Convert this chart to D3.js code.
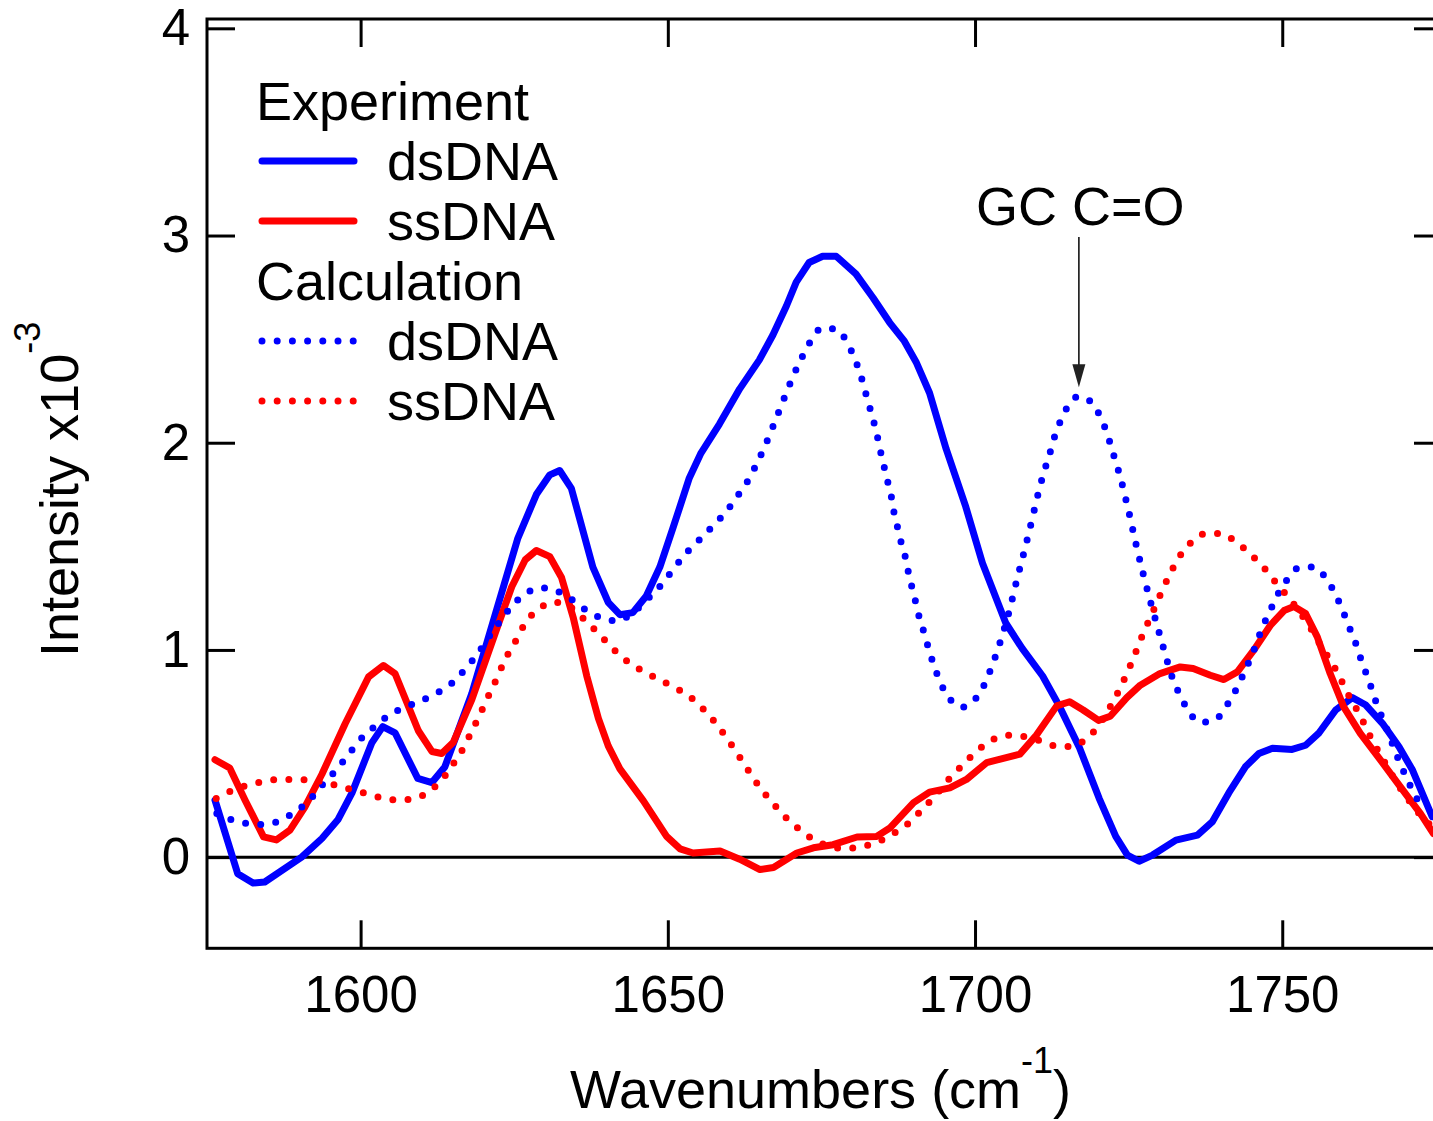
<!DOCTYPE html>
<html>
<head>
<meta charset="utf-8">
<script src="https://cdn.jsdelivr.net/npm/d3@7"></script>
<style>
  body { margin: 0; background: #fff; }
  svg { display: block; font-family: "Liberation Sans", Arial, sans-serif; }
</style>
</head>
<body>
<svg id="chart" width="1433" height="1121"></svg>
<script>
// spectra: [wavenumber (cm-1), intensity x10^-3]
const expDsDNA = [
  [1576.3,0.275],[1580,-0.08],[1582.5,-0.125],[1584.4,-0.12],[1590.4,0.0],[1593.7,0.09],[1596.3,0.18],
  [1598.6,0.31],[1601.8,0.55],[1603.6,0.63],[1605.6,0.60],[1609.3,0.38],[1611.6,0.36],[1613.7,0.435],
  [1618.1,0.79],[1621.8,1.16],[1625.6,1.54],[1628.6,1.75],[1630.8,1.845],[1632.4,1.866],[1634.3,1.78],
  [1637.8,1.40],[1640.3,1.23],[1642.2,1.17],[1644.3,1.18],[1646.5,1.26],[1648.7,1.40],[1650.8,1.585],
  [1653.5,1.83],[1655.4,1.95],[1658.4,2.09],[1661.7,2.26],[1664.9,2.40],[1667.1,2.52],[1669.3,2.66],
  [1670.9,2.775],[1673.0,2.87],[1675.2,2.90],[1677.4,2.90],[1680.6,2.815],[1683.4,2.70],[1686.1,2.58],
  [1688.5,2.49],[1690.4,2.39],[1692.6,2.24],[1695.3,1.97],[1698.5,1.69],[1701.2,1.42],[1705.0,1.13],
  [1707.7,1.006],[1711.0,0.874],[1713.7,0.73],[1717.0,0.528],[1720.2,0.284],[1722.9,0.10],[1724.8,0.01],
  [1726.7,-0.02],[1728.9,0.01],[1732.7,0.082],[1736.2,0.106],[1738.6,0.17],[1741.3,0.31],[1744.0,0.436],
  [1746.2,0.50],[1748.4,0.525],[1751.6,0.52],[1753.8,0.54],[1756.0,0.60],[1758.7,0.71],[1761.4,0.77],
  [1763.6,0.734],[1766.3,0.646],[1769.0,0.533],[1771.2,0.42],[1774.4,0.195]
];

const expSsDNA = [
  [1576.3,0.47],[1578.7,0.43],[1581.2,0.275],[1584.2,0.098],[1586.3,0.083],[1588.5,0.13],[1590.9,0.24],
  [1593.7,0.40],[1597.5,0.645],[1601.3,0.87],[1603.7,0.925],[1605.6,0.886],[1609.4,0.61],[1611.6,0.51],
  [1613.2,0.50],[1615.1,0.555],[1618.1,0.76],[1621.9,1.08],[1624.6,1.305],[1626.8,1.435],[1628.6,1.48],
  [1630.8,1.45],[1632.7,1.35],[1634.6,1.157],[1636.8,0.875],[1638.7,0.67],[1640.3,0.537],[1642.2,0.426],
  [1646.0,0.273],[1649.8,0.10],[1652.0,0.04],[1654.1,0.02],[1658.5,0.03],[1661.7,-0.01],[1665.0,-0.06],
  [1667.2,-0.05],[1671.0,0.02],[1673.7,0.045],[1676.9,0.06],[1680.8,0.097],[1684.0,0.10],[1686.2,0.142],
  [1690.0,0.263],[1692.6,0.314],[1695.9,0.334],[1698.6,0.375],[1701.9,0.456],[1704.6,0.477],[1707.3,0.497],
  [1710.0,0.589],[1713.3,0.73],[1715.4,0.75],[1717.6,0.71],[1720.1,0.66],[1722.0,0.68],[1724.7,0.77],
  [1726.9,0.83],[1730.1,0.886],[1733.4,0.918],[1735.5,0.91],[1738.3,0.878],[1740.5,0.857],[1742.7,0.894],
  [1745.4,1.0],[1748.1,1.12],[1750.3,1.19],[1751.9,1.21],[1753.8,1.176],[1755.7,1.063],[1757.8,0.886],
  [1760.0,0.725],[1762.7,0.597],[1766.0,0.468],[1769.2,0.34],[1772.5,0.21],[1774.6,0.114]
];

const calcDsDNA = [
  [1576.6,0.21],[1579.0,0.18],[1581.5,0.163],[1583.9,0.158],[1586.3,0.17],[1588.9,0.21],[1591.5,0.27],
  [1593.8,0.35],[1596.0,0.42],[1597.9,0.49],[1599.9,0.566],[1602.4,0.633],[1604.9,0.69],[1607.4,0.725],
  [1609.8,0.754],[1612.3,0.79],[1614.8,0.838],[1617.2,0.914],[1619.2,0.988],[1620.8,1.06],[1622.5,1.13],
  [1624.5,1.208],[1627.0,1.275],[1629.5,1.30],[1631.9,1.285],[1634.3,1.245],[1636.8,1.19],[1639.3,1.153],
  [1641.8,1.14],[1644.1,1.175],[1646.5,1.24],[1648.8,1.31],[1650.8,1.385],[1652.7,1.458],[1655.1,1.53],
  [1657.4,1.60],[1659.7,1.675],[1661.5,1.75],[1663.1,1.82],[1664.4,1.895],[1665.6,1.97],[1666.6,2.04],
  [1667.6,2.115],[1668.6,2.19],[1669.6,2.264],[1670.6,2.335],[1671.8,2.41],[1673.1,2.483],[1675.1,2.553],
  [1677.5,2.546],[1679.3,2.477],[1680.5,2.40],[1681.4,2.325],[1682.1,2.25],[1682.8,2.177],[1683.5,2.103],
  [1684.1,2.03],[1684.6,1.96],[1685.2,1.884],[1685.8,1.81],[1686.4,1.736],[1686.8,1.665],[1687.4,1.59],
  [1688.0,1.516],[1688.7,1.443],[1689.2,1.368],[1689.8,1.295],[1690.4,1.224],[1691.0,1.149],[1691.8,1.076],
  [1692.5,1.00],[1693.3,0.927],[1694.2,0.854],[1695.5,0.78],[1697.8,0.724],[1700.1,0.765],[1701.6,0.838],
  [1702.6,0.911],[1703.5,0.984],[1704.3,1.057],[1705.7,1.203],[1706.9,1.35],[1708.2,1.498],[1709.4,1.645],
  [1710.6,1.792],[1711.3,1.866],[1712.1,1.94],[1712.8,2.016],[1713.7,2.09],[1714.8,2.16],[1716.9,2.224],
  [1719.2,2.187],[1720.6,2.11],[1721.6,2.036],[1722.3,1.965],[1723.1,1.89],[1723.8,1.817],[1724.4,1.744],
  [1725.0,1.671],[1726.1,1.523],[1727.3,1.375],[1728.6,1.228],[1730.0,1.08],[1731.4,0.934],[1732.2,0.858],
  [1733.3,0.786],[1734.6,0.712],[1736.7,0.65],[1739.1,0.664],[1741.1,0.738],[1742.5,0.81],[1743.7,0.884],
  [1744.8,0.958],[1745.8,1.03],[1746.7,1.105],[1747.9,1.18],[1749.0,1.253],[1750.5,1.327],[1752.7,1.396],
  [1755.1,1.40],[1757.4,1.333],[1758.8,1.26],[1759.9,1.186],[1760.9,1.11],[1761.9,1.037],[1762.7,0.965],
  [1763.6,0.891],[1764.5,0.817],[1765.3,0.745],[1766.3,0.671],[1767.3,0.597],[1768.2,0.525],[1769.2,0.45],
  [1770.3,0.378],[1771.5,0.304],[1773.0,0.23]
];

const calcSsDNA = [
  [1576.5,0.283],[1579.0,0.32],[1581.5,0.347],[1584.0,0.363],[1586.5,0.375],[1588.9,0.375],[1591.4,0.372],
  [1593.9,0.363],[1596.4,0.343],[1598.9,0.323],[1601.3,0.304],[1603.9,0.283],[1606.3,0.275],[1608.7,0.283],
  [1611.3,0.32],[1613.6,0.387],[1615.3,0.46],[1616.9,0.536],[1618.1,0.61],[1619.3,0.68],[1620.4,0.754],
  [1621.6,0.826],[1622.7,0.90],[1623.9,0.975],[1625.3,1.047],[1626.6,1.12],[1628.9,1.196],[1631.4,1.23],
  [1633.8,1.213],[1636.3,1.15],[1638.7,1.08],[1641.1,1.005],[1643.5,0.943],[1646.0,0.897],[1648.5,0.858],
  [1650.9,0.822],[1653.5,0.776],[1655.9,0.71],[1658.1,0.635],[1659.9,0.562],[1661.6,0.487],[1663.3,0.41],
  [1664.9,0.34],[1666.9,0.268],[1669.1,0.195],[1671.5,0.132],[1674.0,0.08],[1678.9,0.042],[1681.4,0.05],
  [1683.9,0.07],[1686.5,0.11],[1688.9,0.157],[1691.3,0.227],[1693.6,0.30],[1695.7,0.375],[1698.0,0.446],
  [1700.5,0.517],[1702.9,0.568],[1705.4,0.588],[1707.9,0.582],[1710.3,0.564],[1712.9,0.538],[1715.4,0.534],
  [1717.8,0.564],[1720.1,0.635],[1721.7,0.71],[1723.0,0.78],[1724.2,0.853],[1725.3,0.927],[1726.3,1.00],
  [1727.3,1.075],[1728.4,1.148],[1729.5,1.222],[1730.6,1.297],[1731.8,1.37],[1733.1,1.443],[1735.1,1.517],
  [1737.6,1.562],[1740.1,1.562],[1742.5,1.52],[1745.0,1.458],[1747.2,1.39],[1749.3,1.313],[1751.4,1.24],
  [1753.2,1.167],[1754.9,1.092],[1756.3,1.02],[1757.9,0.946],[1759.3,0.873],[1760.5,0.798],[1761.9,0.725],
  [1763.2,0.652],[1764.4,0.578],[1765.8,0.503],[1767.2,0.43],[1768.7,0.356],[1770.4,0.283],[1772.3,0.21],
  [1774.6,0.14]
];

const xTicks = [1600, 1650, 1700, 1750];
const yTicks = [0, 1, 2, 3, 4];

const series = [
  { name: "dsDNA", group: "Experiment", data: expDsDNA, color: "#0000ff", dotted: false },
  { name: "ssDNA", group: "Experiment", data: expSsDNA, color: "#ff0000", dotted: false },
  { name: "dsDNA", group: "Calculation", data: calcDsDNA, color: "#0000ff", dotted: true },
  { name: "ssDNA", group: "Calculation", data: calcSsDNA, color: "#ff0000", dotted: true }
];
const annotation = { text: "GC C=O", wn: 1716.9, value: 2.224 };

const svg = d3.select("#chart");
const plot = { left: 207, right: 1442, top: 19, bottom: 948.3 };

const x = d3.scaleLinear().domain([1575, 1776]).range([plot.left, plot.right]);
const y = d3.scaleLinear().domain([-0.44, 4.045]).range([plot.bottom, plot.top]);

const tickLen = 28;
const lineW = 7;
const dotGap = "0 15.2";

svg.append("clipPath").attr("id", "clip")
  .append("rect")
  .attr("x", plot.left).attr("y", plot.top)
  .attr("width", plot.right - plot.left).attr("height", plot.bottom - plot.top);

// axes (ticks point inward on all four sides)
function styleAxis(g, labelSize) {
  g.select(".domain").remove();
  g.selectAll(".tick line").attr("stroke", "#000").attr("stroke-width", 3);
  g.selectAll(".tick text")
    .attr("fill", "#000")
    .style("font-family", "'Liberation Sans', Arial, sans-serif")
    .style("font-size", labelSize + "px");
}

svg.append("g")
  .attr("transform", `translate(0,${plot.bottom})`)
  .call(d3.axisBottom(x).tickValues(xTicks).tickSize(-tickLen).tickPadding(27).tickFormat(d3.format("d")))
  .call(g => styleAxis(g, 51));

svg.append("g")
  .attr("transform", `translate(0,${plot.top})`)
  .call(d3.axisTop(x).tickValues(xTicks).tickSize(-tickLen).tickFormat(""))
  .call(g => styleAxis(g, 51));

svg.append("g")
  .attr("transform", `translate(${plot.left},0)`)
  .call(d3.axisLeft(y).tickValues(yTicks).tickSize(-tickLen).tickPadding(17).tickFormat(d3.format("d")))
  .call(g => styleAxis(g, 51));

svg.append("g")
  .attr("transform", `translate(${plot.right},0)`)
  .call(d3.axisRight(y).tickValues(yTicks).tickSize(-tickLen).tickFormat(""))
  .call(g => styleAxis(g, 51));

// zero line
svg.append("line")
  .attr("x1", plot.left).attr("x2", plot.right)
  .attr("y1", y(0)).attr("y2", y(0))
  .attr("stroke", "#000").attr("stroke-width", 3);

// spectra
const line = d3.line().x(d => x(d[0])).y(d => y(d[1]));

svg.append("g")
  .attr("clip-path", "url(#clip)")
  .selectAll("path")
  .data(series)
  .join("path")
  .attr("d", d => line.curve(d.dotted ? d3.curveMonotoneX : d3.curveLinear)(d.data))
  .attr("fill", "none")
  .attr("stroke", d => d.color)
  .attr("stroke-width", lineW)
  .attr("stroke-linecap", "round")
  .attr("stroke-linejoin", "round")
  .attr("stroke-dasharray", d => d.dotted ? dotGap : null);

// frame
svg.append("rect")
  .attr("x", plot.left).attr("y", plot.top)
  .attr("width", plot.right - plot.left).attr("height", plot.bottom - plot.top)
  .attr("fill", "none").attr("stroke", "#000").attr("stroke-width", 3);

// legend
const legend = svg.append("g").style("font-size", "54px");
const groups = ["Experiment", "Calculation"];
groups.forEach((grp, gi) => {
  const base = 120 + gi * 180;
  legend.append("text").attr("x", 256).attr("y", base).text(grp);
  series.filter(s => s.group === grp).forEach((s, i) => {
    const by = base + 60 * (i + 1);
    legend.append("line")
      .attr("x1", 262).attr("x2", 354)
      .attr("y1", by - 19).attr("y2", by - 19)
      .attr("stroke", s.color).attr("stroke-width", lineW)
      .attr("stroke-linecap", "round")
      .attr("stroke-dasharray", s.dotted ? dotGap : null);
    legend.append("text").attr("x", 387).attr("y", by).text(s.name);
  });
});

// annotation arrow
const ax = x(annotation.wn);
const tipY = y(annotation.value) - 9;
svg.append("text")
  .attr("x", 976).attr("y", 225)
  .style("font-size", "54px")
  .text(annotation.text);
svg.append("line")
  .attr("x1", ax).attr("x2", ax)
  .attr("y1", 237).attr("y2", tipY - 18)
  .attr("stroke", "#222").attr("stroke-width", 1.7);
svg.append("path")
  .attr("d", `M${ax - 6.5},${tipY - 23} L${ax + 6.5},${tipY - 23} L${ax},${tipY} Z`)
  .attr("fill", "#222");

// axis titles
const xt = svg.append("text")
  .attr("x", 570).attr("y", 1108)
  .style("font-size", "54px");
xt.append("tspan").text("Wavenumbers (cm");
xt.append("tspan").attr("dy", -35).style("font-size", "36px").text("-1");
xt.append("tspan").attr("dy", 35).text(")");

const yt = svg.append("text")
  .attr("transform", "translate(78,657) rotate(-90)")
  .style("font-size", "54px");
yt.append("tspan").text("Intensity x10");
yt.append("tspan").attr("dy", -38).style("font-size", "36px").text("-3");
</script>
</body>
</html>
